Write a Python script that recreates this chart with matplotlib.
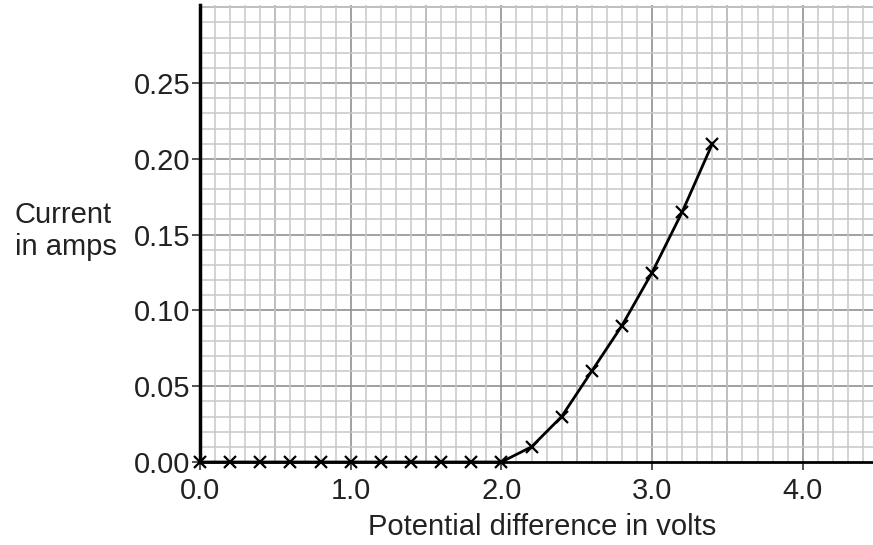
import numpy as np
import matplotlib.pyplot as plt
from matplotlib.ticker import MultipleLocator

plt.rcParams['font.family'] = ['Liberation Sans', 'DejaVu Sans']

# measured points: potential difference (V) and current (A)
volts = [0.0, 0.2, 0.4, 0.6, 0.8, 1.0, 1.2, 1.4, 1.6, 1.8, 2.0,
         2.2, 2.4, 2.6, 2.8, 3.0, 3.2, 3.4]
amps = [0.0, 0.0, 0.0, 0.0, 0.0, 0.0, 0.0, 0.0, 0.0, 0.0, 0.0,
        0.01, 0.03, 0.06, 0.09, 0.125, 0.165, 0.21]

x_ticks = [0.0, 1.0, 2.0, 3.0, 4.0]
x_tick_labels = ['0.0', '1.0', '2.0', '3.0', '4.0']
y_ticks = [0.0, 0.05, 0.10, 0.15, 0.20, 0.25]
y_tick_labels = ['0.00', '0.05', '0.10', '0.15', '0.20', '0.25']

fig = plt.figure(figsize=(8.73, 5.45), dpi=100)
ax = fig.add_axes([200 / 873, 1 - 462 / 545, 673 / 873, 457 / 545])

ax.set_xlim(0, 4.466)
ax.set_ylim(0, 0.3015)

# graph paper grid
ax.xaxis.set_minor_locator(MultipleLocator(0.1))
ax.yaxis.set_minor_locator(MultipleLocator(0.01))
ax.grid(which='minor', color='#c8c8c8', linewidth=1.1)
for v in np.arange(0.5, 4.5, 0.5):
    ax.axvline(v, color='#909090', linewidth=1.2, zorder=0.5)
for v in np.arange(0.05, 0.31, 0.05):
    ax.axhline(v, color='#909090', linewidth=1.2, zorder=0.5)
ax.set_axisbelow(True)

ax.plot(volts, amps, color='black', linewidth=2, marker='x',
        markersize=8, markeredgewidth=1.6, clip_on=False, zorder=3)

ax.set_xticks(x_ticks)
ax.set_xticklabels(x_tick_labels)
ax.set_yticks(y_ticks)
ax.set_yticklabels(y_tick_labels)
ax.tick_params(which='minor', length=0)
ax.tick_params(axis='both', which='major', labelsize=21, direction='out',
               length=6, width=1.2, color='#333333', labelcolor='#222222')
ax.tick_params(axis='x', pad=5)
ax.tick_params(axis='y', pad=1)

for s in ['top', 'right']:
    ax.spines[s].set_visible(False)
ax.spines['left'].set_linewidth(2.5)
ax.spines['bottom'].set_linewidth(2.0)

fig.text(15 / 873, 1 - 231 / 545, 'Current\nin amps', fontsize=21,
         ha='left', va='center', color='#222222', linespacing=1.15)
fig.text(542 / 873, 1 - 527 / 545, 'Potential difference in volts',
         fontsize=21, ha='center', va='center', color='#222222')

fig.savefig('out.png', dpi=100)
